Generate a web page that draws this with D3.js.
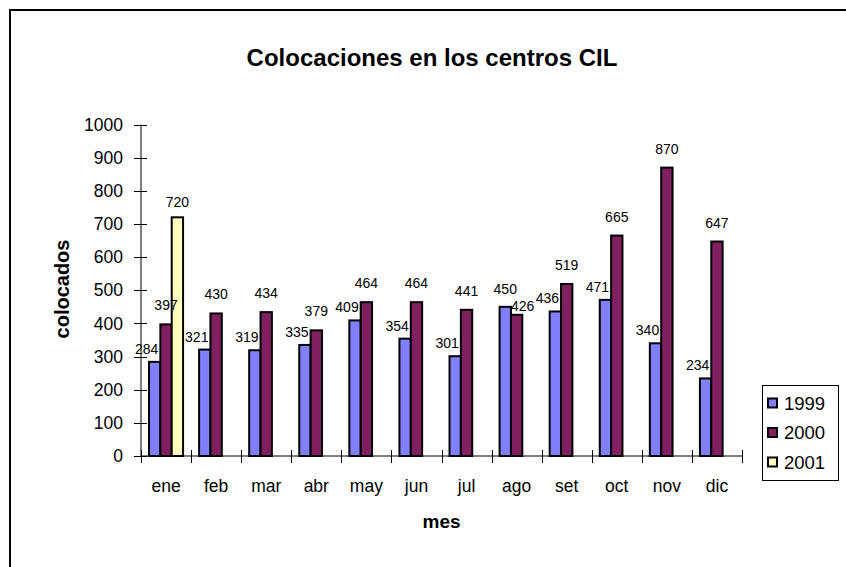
<!DOCTYPE html>
<html>
<head>
<meta charset="utf-8">
<script src="https://cdn.jsdelivr.net/npm/d3@7"></script>
<style>
  html, body { margin: 0; padding: 0; background: #fff; }
  svg { display: block; font-family: "Liberation Sans", Arial, sans-serif; }
</style>
</head>
<body>
<svg id="chart" width="846" height="567"></svg>
<script>
const months = ["ene","feb","mar","abr","may","jun","jul","ago","set","oct","nov","dic"];
const seriesNames = ["1999","2000","2001"];
const values1999 = [284,321,319,335,409,354,301,450,436,471,340,234];
const values2000 = [397,430,434,379,464,464,441,426,519,665,870,647];
const values2001 = [720,null,null,null,null,null,null,null,null,null,null,null];
const yTicks = [0,100,200,300,400,500,600,700,800,900,1000];
const colors = ["#8080FF","#802060","#FFFFC0"];
const titleText = "Colocaciones en los centros CIL";
const xTitle = "mes";
const yTitle = "colocados";

const series = [values1999, values2000, values2001];
const svg = d3.select("#chart");

// chart border
svg.append("rect").attr("x", 10).attr("y", 10).attr("width", 860).attr("height", 580)
  .attr("fill", "#fff").attr("stroke", "#000").attr("stroke-width", 2);

const plotLeft = 141, plotRight = 742, plotTop = 124.5, plotBottom = 456;

const x0 = d3.scaleBand().domain(months).range([plotLeft, plotRight]).paddingInner(0.32).paddingOuter(0.16);
const x1 = d3.scaleBand().domain(seriesNames).range([0, x0.bandwidth()]);
const y = d3.scaleLinear().domain([0, 1000]).range([plotBottom, plotTop]);

// title
svg.append("text").attr("x", 432).attr("y", 66).attr("text-anchor", "middle")
  .attr("font-size", 24).attr("font-weight", "bold").text(titleText);

// bars
series.forEach((vals, si) => {
  const g = svg.append("g");
  g.selectAll("rect").data(months.map((m, i) => ({m, v: vals[i]})).filter(d => d.v != null))
    .enter().append("rect")
    .attr("x", d => x0(d.m) + x1(seriesNames[si]))
    .attr("y", d => y(d.v))
    .attr("width", x1.bandwidth())
    .attr("height", d => plotBottom - y(d.v))
    .attr("fill", colors[si])
    .attr("stroke", "#000").attr("stroke-width", 2);
});

// data labels (Excel-like placement: 1999 label nudged left unless its bar is the taller one,
// in which case the 2000 label is nudged right and down to avoid collision)
function labelPos(si, i) {
  const v = series[si][i];
  const cx = x0(months[i]) + x1(seriesNames[si]) + x1.bandwidth() / 2;
  const taller1999 = values1999[i] > values2000[i];
  if (si === 0) {
    return taller1999 ? {x: cx, y: y(v) - 13} : {x: cx - 8, y: y(v) - 8};
  }
  if (si === 1) {
    return taller1999 ? {x: cx + 6, y: y(v) - 4} : {x: cx, y: y(v) - 14};
  }
  return {x: cx, y: y(v) - 10};
}
series.forEach((vals, si) => {
  svg.append("g").selectAll("text")
    .data(months.map((m, i) => ({i, v: vals[i]})).filter(d => d.v != null))
    .enter().append("text")
    .attr("x", d => labelPos(si, d.i).x)
    .attr("y", d => labelPos(si, d.i).y)
    .attr("text-anchor", "middle")
    .attr("font-size", 14).attr("fill", "#000")
    .text(d => d.v);
});

// y axis
const yAxis = svg.append("g");
yAxis.append("line").attr("x1", plotLeft).attr("x2", plotLeft).attr("y1", plotTop).attr("y2", plotBottom)
  .attr("stroke", "#000").attr("stroke-width", 1);
yAxis.selectAll("line.tick").data(yTicks).enter().append("line")
  .attr("x1", plotLeft - 7).attr("x2", plotLeft + 6)
  .attr("y1", d => Math.round(y(d)) + 0.5).attr("y2", d => Math.round(y(d)) + 0.5)
  .attr("stroke", "#000").attr("stroke-width", 1);
yAxis.selectAll("text").data(yTicks).enter().append("text")
  .attr("x", plotLeft - 18).attr("y", d => y(d)).attr("dy", "0.35em")
  .attr("text-anchor", "end").attr("font-size", 17.5).text(d => d);

// x axis
const xAxis = svg.append("g");
xAxis.append("line").attr("x1", plotLeft).attr("x2", plotRight).attr("y1", plotBottom).attr("y2", plotBottom)
  .attr("stroke", "#000").attr("stroke-width", 1);
const step = x0.step();
const xTickPos = d3.range(months.length + 1).map(i => x0(months[0]) - x0.paddingOuter() * step + i * step);
xAxis.selectAll("line.tick").data(xTickPos).enter().append("line")
  .attr("x1", d => Math.round(d) + 0.5).attr("x2", d => Math.round(d) + 0.5)
  .attr("y1", plotBottom - 6).attr("y2", plotBottom + 7)
  .attr("stroke", "#000").attr("stroke-width", 1);
xAxis.selectAll("text").data(months).enter().append("text")
  .attr("x", d => x0(d) + x0.bandwidth() / 2).attr("y", 492)
  .attr("text-anchor", "middle").attr("font-size", 17.5).text(d => d);

// axis titles
svg.append("text").attr("x", (plotLeft + plotRight) / 2).attr("y", 528).attr("text-anchor", "middle")
  .attr("font-size", 19).attr("font-weight", "bold").text(xTitle);
svg.append("text").attr("transform", "translate(69,289) rotate(-90)").attr("text-anchor", "middle")
  .attr("font-size", 20).attr("font-weight", "bold").text(yTitle);

// legend
const lg = svg.append("g");
lg.append("rect").attr("x", 762.5).attr("y", 385.5).attr("width", 76).attr("height", 95)
  .attr("fill", "#fff").attr("stroke", "#000").attr("stroke-width", 1);
seriesNames.forEach((s, i) => {
  const cy = 403 + i * 29.5;
  lg.append("rect").attr("x", 768).attr("y", cy - 4.5).attr("width", 9).attr("height", 9)
    .attr("fill", colors[i]).attr("stroke", "#000").attr("stroke-width", 2);
  lg.append("text").attr("x", 784).attr("y", cy).attr("dy", "0.36em")
    .attr("font-size", 18.5).text(s);
});
</script>
</body>
</html>
